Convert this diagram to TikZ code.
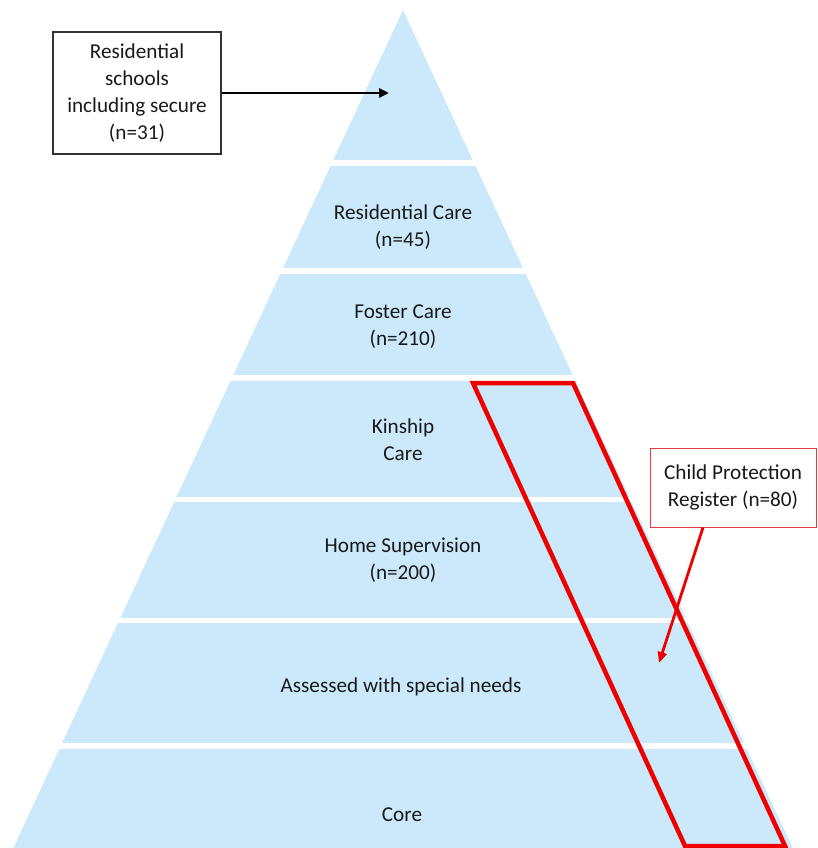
\documentclass[tikz,border=0pt]{standalone}
\usepackage{fontspec}
\setmainfont{Carlito}
\usetikzlibrary{arrows.meta}
\definecolor{tierblue}{RGB}{204,233,251}
\definecolor{cpred}{RGB}{238,0,0}
\definecolor{boxred}{RGB}{226,60,60}
\begin{document}
\begin{tikzpicture}[x=1pt,y=-1pt,
  lbl/.style={align=center,inner sep=0pt,font=\fontsize{21.2}{27}\selectfont,text=black!90},
  blackbox/.style={lbl,draw=black!80,line width=1.3pt,fill=white,minimum width=168pt,minimum height=122pt},
  redbox/.style={lbl,draw=boxred,line width=1pt,fill=white,minimum width=166pt,minimum height=79pt},
  blackarrow/.style={line width=2.5pt,-{Triangle[length=10pt,width=9pt]}},
  redarrow/.style={cpred,line width=2.8pt,-{Triangle[length=11pt,width=9pt]}}]
\useasboundingbox (0,0) rectangle (817,848);
\begin{scope}
  \clip (403,10) -- (13.3,848) -- (792.7,848) -- cycle;
  \fill[tierblue] (0,0) rectangle (817,160);
  \fill[tierblue] (0,166) rectangle (817,268);
  \fill[tierblue] (0,274) rectangle (817,375);
  \fill[tierblue] (0,381) rectangle (817,497);
  \fill[tierblue] (0,502) rectangle (817,618);
  \fill[tierblue] (0,623) rectangle (817,743);
  \fill[tierblue] (0,749) rectangle (817,848);
\end{scope}
\node[lbl] (rescare) at (403,227) {Residential Care\\(n=45)};
\node[lbl] (foster) at (403,327) {Foster Care\\(n=210)};
\node[lbl] (kinship) at (403,440) {Kinship\\Care};
\node[lbl] (home) at (403,560) {Home Supervision\\(n=200)};
\node[lbl] (assessed) at (401,687) {Assessed with special needs};
\node[lbl] (core) at (402,815) {Core};
\draw[cpred,line width=4.5pt,line join=miter] (473,383) -- (573,383) -- (785,846) -- (685,846) -- cycle;
\node[blackbox] (schools) at (137,93) {Residential\\schools\\including secure\\(n=31)};
\coordinate (apexpt) at (389,93);
\draw[blackarrow] (schools.east) -- (apexpt);
\node[redbox] (cpr) at (733,487.5) {Child Protection\\Register (n=80)};
\coordinate (cprtip) at (659,663);
\draw[redarrow] ([xshift=-30pt]cpr.south) -- (cprtip);
\end{tikzpicture}
\end{document}
